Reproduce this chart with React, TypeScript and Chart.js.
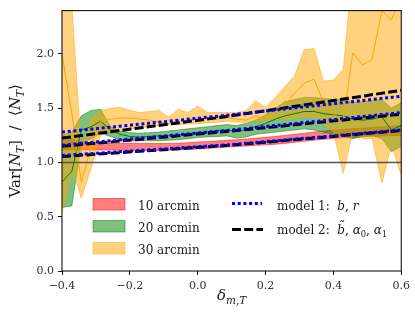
import React, { useEffect, useRef } from "react";
import { Chart, registerables } from "chart.js";

Chart.register(...registerables);

// ---------------- data ----------------
const X_VALUES = [-0.4, -0.371, -0.343, -0.314, -0.286, -0.257, -0.229, -0.2, -0.171, -0.143, -0.114, -0.086, -0.057, -0.029, 0.0, 0.029, 0.057, 0.086, 0.114, 0.143, 0.171, 0.2, 0.229, 0.257, 0.286, 0.314, 0.343, 0.371, 0.4, 0.429, 0.457, 0.486, 0.514, 0.543, 0.571, 0.6];

const RED_LOWER = [1.12, 1.12, 1.12, 1.118, 1.115, 1.115, 1.113, 1.112, 1.112, 1.112, 1.113, 1.114, 1.116, 1.12, 1.125, 1.13, 1.136, 1.143, 1.148, 1.152, 1.158, 1.163, 1.168, 1.176, 1.186, 1.196, 1.206, 1.214, 1.222, 1.228, 1.233, 1.237, 1.241, 1.244, 1.247, 1.25];
const RED_UPPER = [1.25, 1.22, 1.19, 1.185, 1.18, 1.18, 1.178, 1.177, 1.176, 1.175, 1.175, 1.176, 1.178, 1.182, 1.188, 1.193, 1.198, 1.205, 1.21, 1.216, 1.224, 1.232, 1.24, 1.25, 1.26, 1.27, 1.28, 1.29, 1.298, 1.305, 1.31, 1.316, 1.322, 1.328, 1.334, 1.34];

const GREEN_LOWER = [0.585, 0.6, 1.18, 1.22, 1.27, 1.24, 1.21, 1.2, 1.2, 1.2, 1.2, 1.205, 1.21, 1.22, 1.23, 1.235, 1.24, 1.245, 1.225, 1.235, 1.26, 1.27, 1.28, 1.29, 1.3, 1.31, 1.3, 1.28, 1.26, 1.24, 1.22, 1.24, 1.25, 1.22, 1.1, 1.15];
const GREEN_MEAN = [0.82, 0.92, 1.3, 1.33, 1.38, 1.3, 1.26, 1.24, 1.235, 1.24, 1.245, 1.25, 1.255, 1.265, 1.275, 1.285, 1.295, 1.3, 1.285, 1.305, 1.33, 1.36, 1.4, 1.43, 1.45, 1.47, 1.47, 1.45, 1.44, 1.43, 1.4, 1.39, 1.4, 1.42, 1.3, 1.34];
const GREEN_UPPER = [1.25, 1.28, 1.43, 1.48, 1.49, 1.33, 1.29, 1.275, 1.27, 1.275, 1.28, 1.29, 1.3, 1.31, 1.32, 1.33, 1.34, 1.35, 1.34, 1.36, 1.39, 1.44, 1.5, 1.56, 1.58, 1.6, 1.6, 1.59, 1.58, 1.58, 1.55, 1.56, 1.57, 1.58, 1.5, 1.55];

const ORANGE_LOWER = [0.53, 0.95, 0.67, 0.95, 1.25, 1.29, 1.3, 1.31, 1.32, 1.33, 1.34, 1.345, 1.35, 1.355, 1.36, 1.365, 1.37, 1.38, 1.37, 1.37, 1.38, 1.39, 1.4, 1.4, 1.41, 1.42, 1.42, 1.36, 1.28, 0.9, 1.28, 1.22, 1.22, 0.81, 1.16, 0.88];
const ORANGE_MEAN = [2.0, 1.45, 0.82, 1.15, 1.38, 1.4, 1.41, 1.41, 1.4, 1.39, 1.375, 1.36, 1.38, 1.39, 1.41, 1.4, 1.4, 1.41, 1.4, 1.39, 1.43, 1.4, 1.47, 1.53, 1.64, 1.73, 1.77, 1.55, 1.45, 1.38, 2.01, 1.9, 1.95, 2.4, 2.31, 2.55];
const ORANGE_UPPER = [3.0, 2.45, 1.1, 1.4, 1.48, 1.5, 1.51, 1.48, 1.46, 1.47, 1.48, 1.42, 1.49, 1.46, 1.52, 1.46, 1.46, 1.46, 1.46, 1.48, 1.57, 1.51, 1.6, 1.7, 1.8, 2.04, 2.05, 1.75, 1.76, 1.86, 2.8, 2.9, 2.9, 3.5, 3.4, 3.6];

const MODEL_X = [-0.4, 0.1, 0.6];
const MODEL1_10 = [1.065, 1.165, 1.3];
const MODEL1_20 = [1.16, 1.3, 1.46];
const MODEL1_30 = [1.28, 1.44, 1.61];
const MODEL2_10 = [1.055, 1.16, 1.295];
const MODEL2_20 = [1.15, 1.29, 1.445];
const MODEL2_30 = [1.225, 1.43, 1.665];

const REF_LEVEL = 1.0;
const X_MIN = -0.4;
const X_MAX = 0.6;
const Y_MIN = 0;
const Y_MAX = 2.4;
const X_TICKS = [-0.4, -0.2, 0.0, 0.2, 0.4, 0.6];
const Y_TICKS = [0.0, 0.5, 1.0, 1.5, 2.0];

const BAND_LABELS = ["10 arcmin", "20 arcmin", "30 arcmin"];

// ---------------- styling ----------------
const FONT = '"DejaVu Serif", serif';
const RED_FILL = "rgba(255,0,0,0.5)";
const GREEN_FILL = "rgba(0,128,0,0.5)";
const ORANGE_FILL = "rgba(255,165,0,0.5)";
const BAND_COLORS = [RED_FILL, GREEN_FILL, ORANGE_FILL];

type Piece = { t: string; it?: boolean; sub?: boolean; tilde?: boolean };

const Y_TITLE: Piece[] = [
  { t: "Var" }, { t: "[" }, { t: "N", it: true }, { t: "T", it: true, sub: true }, { t: "]" },
  { t: "  /  " },
  { t: "\u27E8" }, { t: "N", it: true }, { t: "T", it: true, sub: true }, { t: "\u27E9" },
];
const X_TITLE: Piece[] = [{ t: "\u03B4", it: true }, { t: "m,T", it: true, sub: true }];
const MODEL1_LABEL: Piece[] = [{ t: "model 1:  " }, { t: "b", it: true }, { t: ", " }, { t: "r", it: true }];
const MODEL2_LABEL: Piece[] = [
  { t: "model 2:  " }, { t: "b", it: true, tilde: true }, { t: ", " },
  { t: "\u03B1", it: true }, { t: "0", sub: true }, { t: ", " },
  { t: "\u03B1", it: true }, { t: "1", sub: true },
];

function pieceFont(p: Piece, size: number) {
  const s = p.sub ? size * 0.7 : size;
  return `${p.it ? "italic " : ""}${s}px ${FONT}`;
}
function measureRich(ctx: CanvasRenderingContext2D, pieces: Piece[], size: number) {
  let w = 0;
  for (const p of pieces) {
    ctx.font = pieceFont(p, size);
    w += ctx.measureText(p.t).width;
  }
  return w;
}
function drawRich(ctx: CanvasRenderingContext2D, pieces: Piece[], x: number, y: number, size: number) {
  let cx = x;
  for (const p of pieces) {
    ctx.font = pieceFont(p, size);
    const w = ctx.measureText(p.t).width;
    ctx.fillText(p.t, cx, y + (p.sub ? size * 0.28 : 0));
    if (p.tilde) {
      ctx.save();
      ctx.font = `${size}px ${FONT}`;
      ctx.textAlign = "center";
      ctx.fillText("\u02DC", cx + w / 2 + 1, y - size * 0.3);
      ctx.restore();
    }
    cx += w;
  }
  return cx;
}

const pts = (xs: number[], ys: number[]) => xs.map((x, i) => ({ x, y: ys[i] }));

const fmt = (v: number) => (v < -1e-9 ? "\u2212" : "") + Math.abs(v).toFixed(1);

const decorPlugin = {
  id: "decor",
  afterDraw(chart: any) {
    const { ctx, chartArea: a } = chart;
    ctx.save();
    // frame
    ctx.strokeStyle = "#111";
    ctx.lineWidth = 1.1;
    ctx.strokeRect(a.left, a.top, a.right - a.left, a.bottom - a.top);

    ctx.fillStyle = "#1a1a1a";
    ctx.textAlign = "left";
    ctx.textBaseline = "alphabetic";

    // y title (rotated)
    ctx.save();
    ctx.translate(20, (a.top + a.bottom) / 2);
    ctx.rotate(-Math.PI / 2);
    const yw = measureRich(ctx, Y_TITLE, 15);
    drawRich(ctx, Y_TITLE, -yw / 2, 0, 15);
    ctx.restore();

    // x title
    const xw = measureRich(ctx, X_TITLE, 15);
    drawRich(ctx, X_TITLE, (a.left + a.right) / 2 - xw / 2, 300, 15);

    // band legend
    for (let k = 0; k < BAND_LABELS.length; k++) {
      const top = 198.5 + k * 22;
      ctx.fillStyle = BAND_COLORS[k];
      ctx.fillRect(93, top, 32, 11.5);
      ctx.strokeStyle = BAND_COLORS[k];
      ctx.lineWidth = 1;
      ctx.strokeRect(93, top, 32, 11.5);
      ctx.fillStyle = "#1a1a1a";
      ctx.font = `12px ${FONT}`;
      ctx.fillText(BAND_LABELS[k], 138, top + 11.3);
    }

    // model legend
    ctx.lineWidth = 3;
    ctx.lineCap = "butt";
    ctx.strokeStyle = "#0000ff";
    ctx.setLineDash([3, 2.7]);
    ctx.beginPath();
    ctx.moveTo(232, 203.5);
    ctx.lineTo(262, 203.5);
    ctx.stroke();
    ctx.strokeStyle = "#000";
    ctx.setLineDash([9, 3.2]);
    ctx.beginPath();
    ctx.moveTo(232, 229.5);
    ctx.lineTo(263, 229.5);
    ctx.stroke();
    ctx.setLineDash([]);
    ctx.fillStyle = "#1a1a1a";
    drawRich(ctx, MODEL1_LABEL, 277, 209.5, 12);
    drawRich(ctx, MODEL2_LABEL, 277, 233.5, 12);
    ctx.restore();
  },
};

export default function App() {
  const ref = useRef<HTMLCanvasElement | null>(null);

  useEffect(() => {
    if (!ref.current) return;
    const edge = (data: any, color: string, fill: any, order: number) => ({
      data,
      borderColor: color,
      backgroundColor: color,
      borderWidth: 1,
      pointRadius: 0,
      fill,
      order,
      clip: 0,
      tension: 0,
    });
    const line = (data: any, color: string, width: number, dash: number[], order: number) => ({
      data,
      borderColor: color,
      backgroundColor: color,
      borderWidth: width,
      borderDash: dash,
      borderCapStyle: "butt",
      pointRadius: 0,
      fill: false,
      order,
      clip: 0,
      tension: 0,
    });

    const datasets: any[] = [
      edge(pts(X_VALUES, RED_LOWER), RED_FILL, false, 12),
      edge(pts(X_VALUES, RED_UPPER), RED_FILL, 0, 12),
      edge(pts(X_VALUES, GREEN_LOWER), GREEN_FILL, false, 11),
      edge(pts(X_VALUES, GREEN_UPPER), GREEN_FILL, 2, 11),
      edge(pts(X_VALUES, ORANGE_LOWER), ORANGE_FILL, false, 10),
      edge(pts(X_VALUES, ORANGE_UPPER), ORANGE_FILL, 4, 10),
      line(pts(X_VALUES, GREEN_MEAN), "#008000", 1, [], 7),
      line(pts(X_VALUES, ORANGE_MEAN), "#FFA500", 1, [], 6),
      line([{ x: X_MIN, y: REF_LEVEL }, { x: X_MAX, y: REF_LEVEL }], "#555555", 1.5, [], 5),
      line(pts(MODEL_X, MODEL2_10), "#000000", 3, [9, 3.2], 3),
      line(pts(MODEL_X, MODEL2_20), "#000000", 3, [9, 3.2], 3),
      line(pts(MODEL_X, MODEL2_30), "#000000", 3, [9, 3.2], 3),
      line(pts(MODEL_X, MODEL1_10), "#0000ff", 3, [3, 2.7], 2),
      line(pts(MODEL_X, MODEL1_20), "#0000ff", 3, [3, 2.7], 2),
      line(pts(MODEL_X, MODEL1_30), "#0000ff", 3, [3, 2.7], 2),
    ];

    const tickFont = { family: FONT, size: 11 };
    const chart = new Chart(ref.current, {
      type: "line",
      data: { datasets },
      options: {
        animation: false,
        responsive: false,
        maintainAspectRatio: false,
        devicePixelRatio: 1,
        layout: { padding: { top: 6, right: 13, left: 0, bottom: 0 } },
        plugins: {
          legend: { display: false },
          tooltip: { enabled: false },
          filler: { propagate: false },
        },
        scales: {
          x: {
            type: "linear",
            min: X_MIN,
            max: X_MAX,
            afterBuildTicks: (s: any) => { s.ticks = X_TICKS.map((v) => ({ value: v })); },
            afterFit: (s: any) => { s.height = 41; },
            grid: { drawOnChartArea: false, drawTicks: true, tickLength: 4, color: "#111" },
            border: { display: false },
            ticks: { font: tickFont, color: "#333", padding: 5, maxRotation: 0, autoSkip: false, callback: (v: any) => fmt(Number(v)) },
          },
          y: {
            type: "linear",
            min: Y_MIN,
            max: Y_MAX,
            afterBuildTicks: (s: any) => { s.ticks = Y_TICKS.map((v) => ({ value: v })); },
            afterFit: (s: any) => { s.width = 62; },
            grid: { drawOnChartArea: false, drawTicks: true, tickLength: 4, color: "#111" },
            border: { display: false },
            ticks: { font: tickFont, color: "#333", padding: 4, autoSkip: false, callback: (v: any) => fmt(Number(v)) },
          },
        },
      } as any,
      plugins: [decorPlugin],
    });
    return () => chart.destroy();
  }, []);

  return (
    <div style={{ position: "fixed", left: 0, top: 0, width: 415, height: 312, background: "#fff" }}>
      <canvas ref={ref} width={415} height={312} style={{ display: "block", width: 415, height: 312 }} />
    </div>
  );
}
